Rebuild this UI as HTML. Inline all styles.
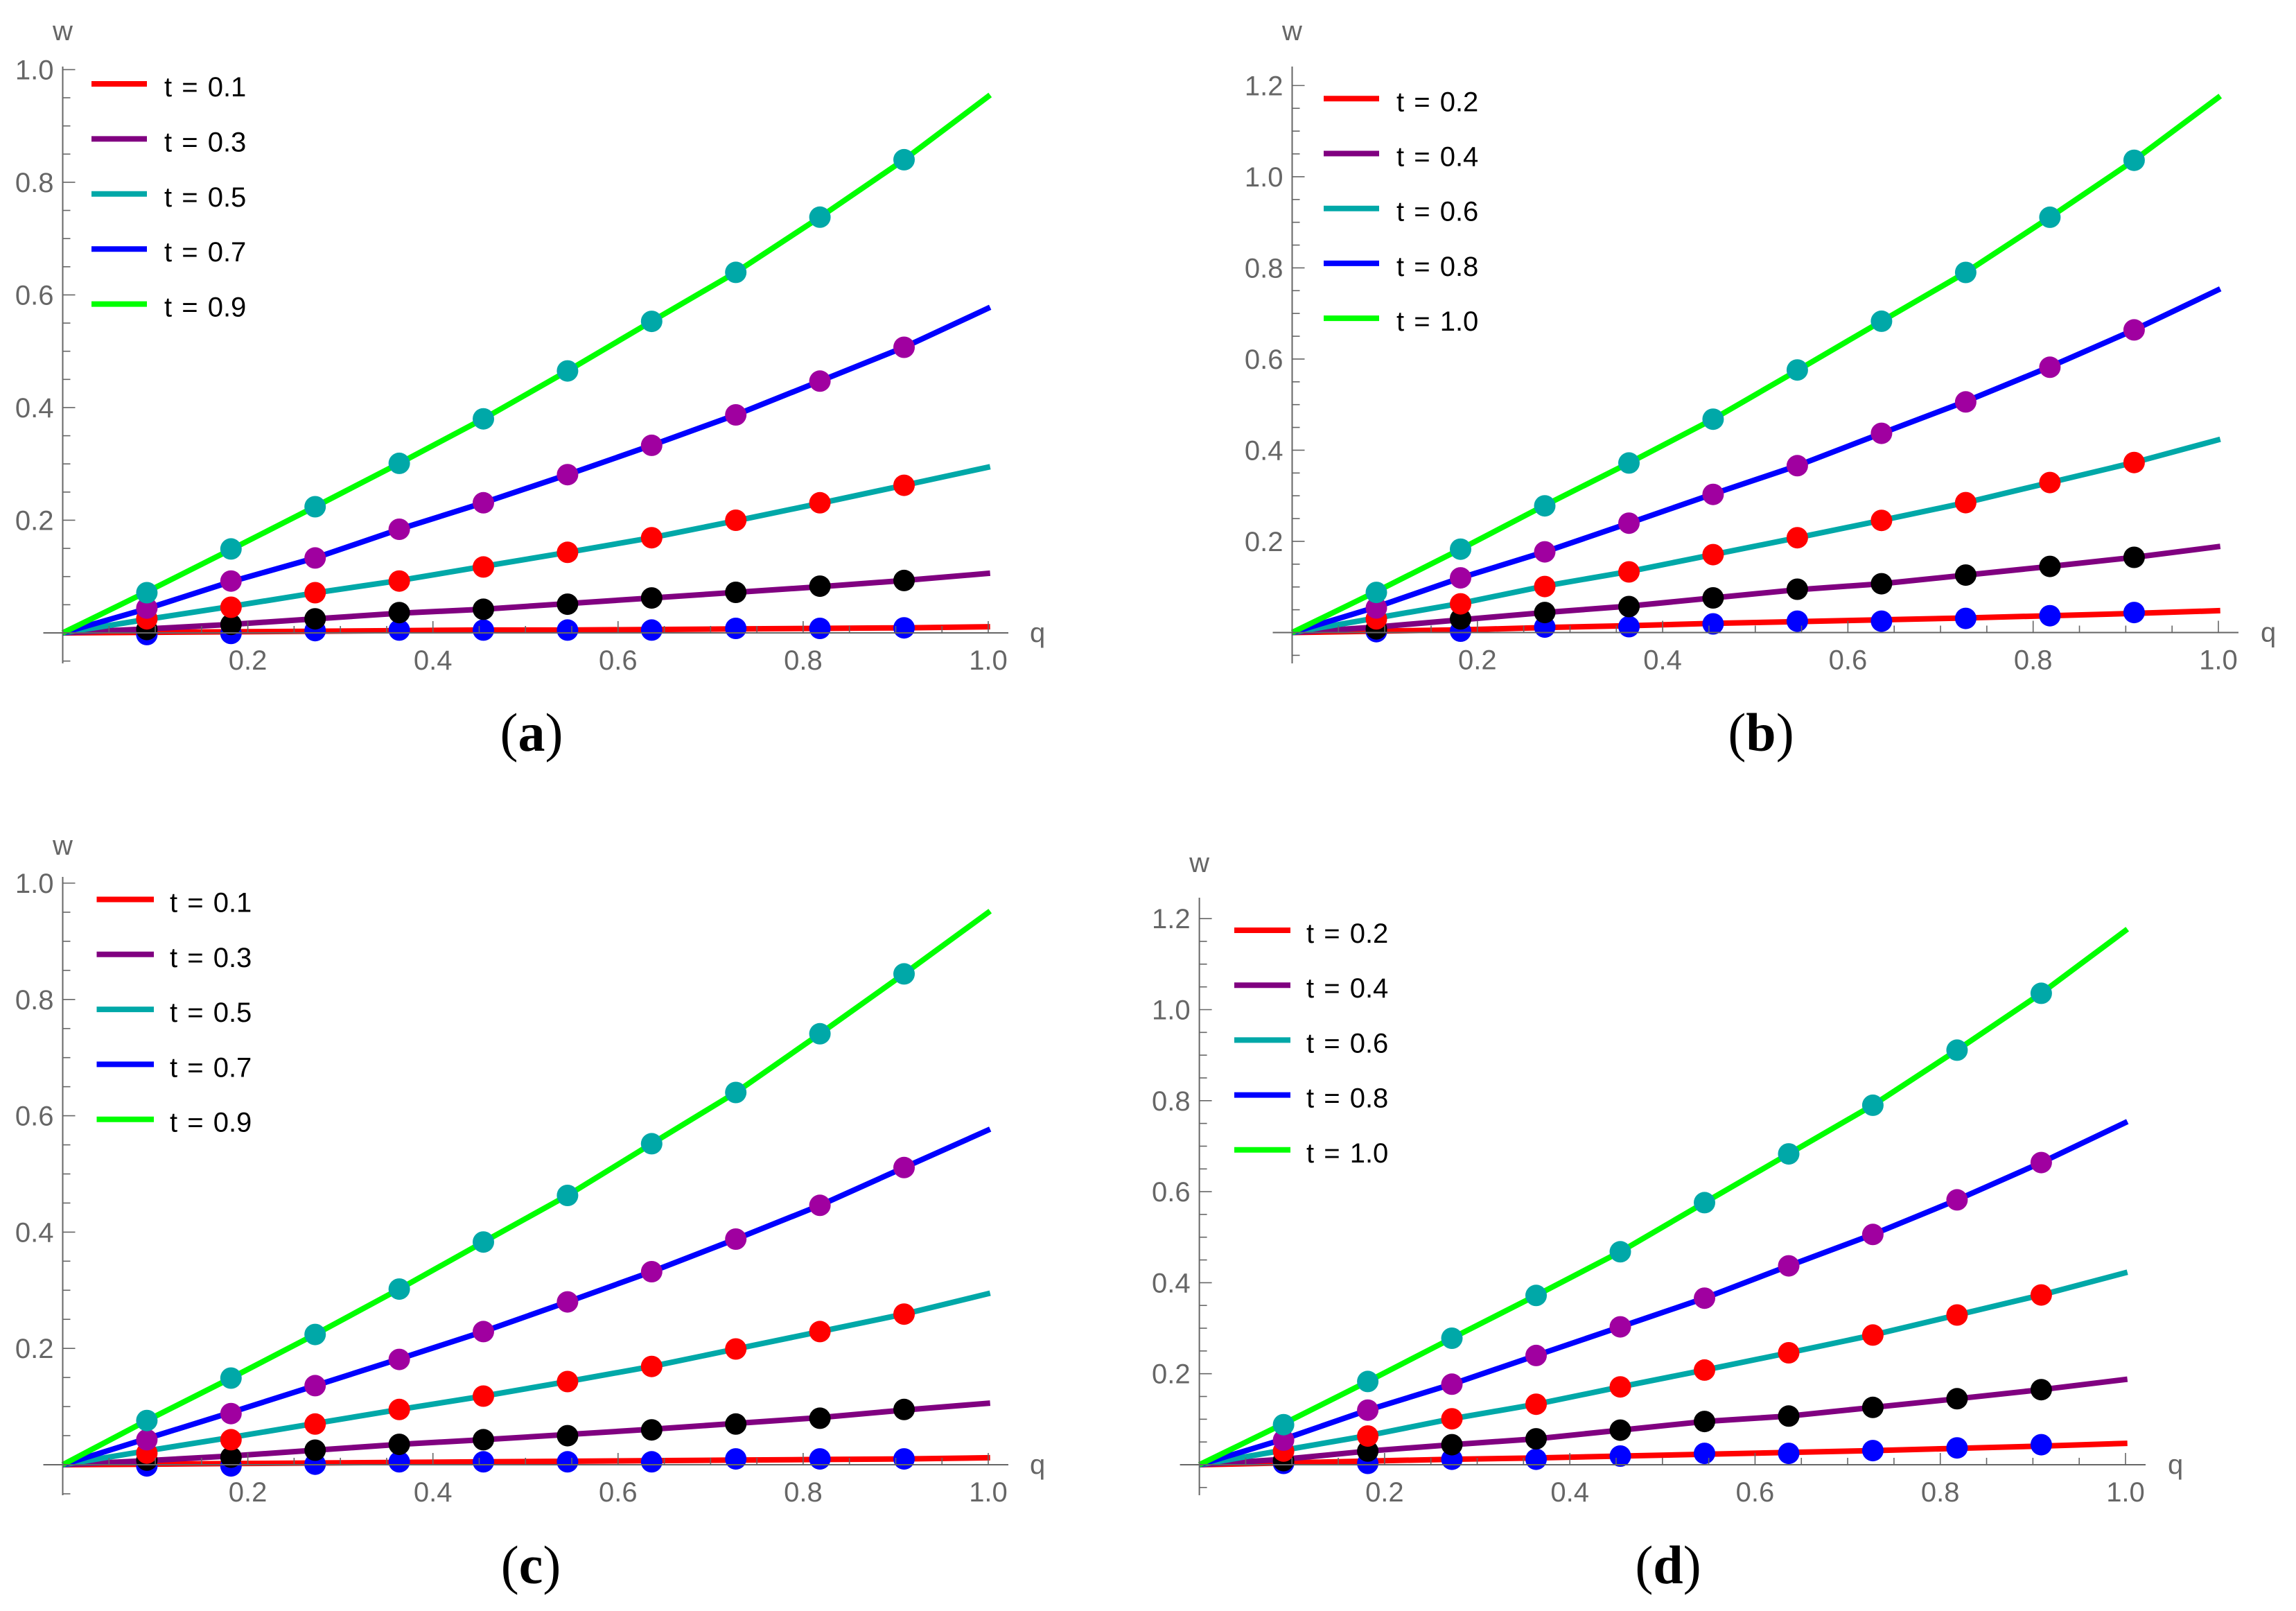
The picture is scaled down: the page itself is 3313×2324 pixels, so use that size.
<!DOCTYPE html>
<html lang="en">
<head>
<meta charset="utf-8">
<title>w versus q for several t values</title>
<style>
html,body{margin:0;padding:0;background:#fff;}
svg{display:block;}
text{font-family:"Liberation Sans",sans-serif;}
.cap{font-family:"Liberation Serif",serif;font-size:78px;fill:#000;text-anchor:middle;}
.cap tspan{font-weight:bold;}
</style>
</head>
<body>
<svg id="figure" xmlns="http://www.w3.org/2000/svg" width="3313" height="2324" viewBox="0 0 3313 2324">
<rect x="0" y="0" width="3313" height="2324" fill="#ffffff"/>
<g id="panel-a"></g>
<g id="panel-b"></g>
<g id="panel-c"></g>
<g id="panel-d"></g>
<text class="cap" x="767" y="1083">(<tspan>a</tspan>)</text>
<text class="cap" x="2541" y="1083">(<tspan>b</tspan>)</text>
<text class="cap" x="766" y="2284">(<tspan>c</tspan>)</text>
<text class="cap" x="2407" y="2284">(<tspan>d</tspan>)</text>
</svg>
<script>
const qLine = [0, 0.0909, 0.1818, 0.2727, 0.3636, 0.4545, 0.5454, 0.6363, 0.7272, 0.8181, 0.9090, 1.002];
const qDots = [0.0909, 0.1818, 0.2727, 0.3636, 0.4545, 0.5454, 0.6363, 0.7272, 0.8181, 0.9090];
const xTickLabels = ["0.2", "0.4", "0.6", "0.8", "1.0"];
const yTickLabelsShort = ["0.2", "0.4", "0.6", "0.8", "1.0"];
const yTickLabelsTall = ["0.2", "0.4", "0.6", "0.8", "1.0", "1.2"];
const legendOdd = ["t = 0.1", "t = 0.3", "t = 0.5", "t = 0.7", "t = 0.9"];
const legendEven = ["t = 0.2", "t = 0.4", "t = 0.6", "t = 0.8", "t = 1.0"];

const aLine1 = [0, .001, .002, .003, .004, .005, .005, .006, .007, .008, .009, .011];
const aLine2 = [0, .007, .015, .025, .035, .042, .052, .062, .072, .082, .093, .106];
const aLine3 = [0, .024, .047, .071, .093, .118, .143, .169, .199, .23, .262, .295];
const aLine4 = [0, .043, .091, .133, .184, .231, .281, .333, .387, .447, .507, .578];
const aLine5 = [0, .073, .148, .224, .301, .38, .465, .553, .64, .738, .84, .955];
const aDots1 = [-.003, -.001, .004, .005, .005, .005, .005, .008, .008, .009];
const aDots2 = [.006, .015, .025, .036, .042, .051, .062, .072, .083, .093];
const aDots3 = [.025, .0455, .0714, .092, .117, .143, .169, .2, .231, .262];
const aDots4 = [.044, .092, .133, .184, .231, .281, .333, .387, .447, .507];
const aDots5 = [.0714, .149, .224, .301, .38, .465, .553, .64, .738, .84];

const bLine1 = [0, .003, .006, .011, .015, .02, .024, .028, .032, .037, .042, .048];
const bLine2 = [0, .012, .028, .044, .058, .076, .094, .107, .126, .145, .165, .189];
const bLine3 = [0, .032, .064, .102, .134, .171, .208, .246, .285, .329, .373, .424];
const bLine4 = [0, .056, .12, .177, .24, .304, .366, .437, .507, .583, .664, .754];
const bLine5 = [0, .09, .183, .279, .372, .468, .575, .683, .79, .911, 1.036, 1.177];
const bDots1 = [.002, .003, .012, .013, .019, .025, .025, .031, .037, .044];
const bDots2 = [.008, .03, .044, .057, .076, .095, .107, .126, .145, .165];
const bDots3 = [.03, .063, .101, .133, .171, .208, .246, .285, .329, .373];
const bDots4 = [.054, .12, .177, .24, .303, .366, .437, .506, .582, .664];
const bDots5 = [.088, .183, .278, .372, .468, .576, .683, .79, .911, 1.036];

const cLine1 = [0, .001, .002, .003, .004, .005, .006, .007, .008, .009, .01, .012];
const cLine2 = [0, .007, .015, .025, .035, .043, .052, .061, .071, .081, .094, .106];
const cLine3 = [0, .024, .047, .071, .095, .118, .143, .169, .199, .229, .259, .295];
const cLine4 = [0, .045, .09, .136, .182, .229, .28, .332, .388, .446, .511, .577];
const cLine5 = [0, .076, .149, .224, .302, .383, .463, .552, .64, .741, .844, .952];
const cDots1 = [-.002, -.002, .001, .005, .005, .005, .005, .01, .01, .01];
const cDots2 = [.008, .013, .025, .035, .043, .05, .06, .07, .08, .095];
const cDots3 = [.02, .043, .07, .095, .118, .143, .169, .199, .229, .259];
const cDots4 = [.043, .088, .136, .181, .229, .28, .332, .388, .446, .511];
const cDots5 = [.076, .149, .224, .302, .383, .463, .552, .64, .741, .844];

const dLine1 = [0, .004, .008, .012, .015, .019, .023, .027, .031, .036, .041, .047];
const dLine2 = [0, .012, .03, .044, .057, .076, .095, .107, .126, .145, .165, .188];
const dLine3 = [0, .032, .064, .101, .133, .171, .208, .246, .285, .329, .373, .423];
const dLine4 = [0, .056, .12, .177, .24, .303, .366, .437, .506, .582, .664, .754];
const dLine5 = [0, .09, .183, .278, .372, .468, .576, .683, .79, .911, 1.036, 1.177];
const dDots1 = [.003, .003, .012, .012, .019, .025, .025, .031, .037, .044];
const dDots2 = [.009, .03, .044, .057, .076, .095, .107, .126, .145, .165];
const dDots3 = [.03, .063, .101, .133, .171, .208, .246, .285, .329, .373];
const dDots4 = [.054, .12, .177, .24, .303, .366, .437, .506, .582, .664];
const dDots5 = [.088, .183, .278, .372, .468, .576, .683, .79, .911, 1.036];

const lineColors = ["#ff0000", "#800080", "#00a8a8", "#0000ff", "#00ff00"];
const dotColors = ["#0000ff", "#000000", "#ff0000", "#a000a0", "#00a8a8"];
const axisGray = "#666666";
const SVGNS = "http://www.w3.org/2000/svg";

const panels = [
  {id:"panel-a", x0:90.5, x1:1426, y0:913, unit:812.6, yLabels:yTickLabelsShort, axTop:96, axBot:957, wBase:58, qx:1486,
   legend:legendOdd, legX:[132,212], legY:121, legStep:79.4, txtX:237,
   lines:[aLine1,aLine2,aLine3,aLine4,aLine5], dots:[aDots1,aDots2,aDots3,aDots4,aDots5]},
  {id:"panel-b", x0:1864.5, x1:3201, y0:912.5, unit:657.6, yLabels:yTickLabelsTall, axTop:96, axBot:957, wBase:58, qx:3262,
   legend:legendEven, legX:[1910,1990], legY:142.3, legStep:79.2, txtX:2015,
   lines:[bLine1,bLine2,bLine3,bLine4,bLine5], dots:[bDots1,bDots2,bDots3,bDots4,bDots5]},
  {id:"panel-c", x0:90.5, x1:1426, y0:2113, unit:839, yLabels:yTickLabelsShort, axTop:1265, axBot:2157, wBase:1233, qx:1486,
   legend:legendOdd, legX:[139.5,222], legY:1297.5, legStep:79.3, txtX:245,
   lines:[cLine1,cLine2,cLine3,cLine4,cLine5], dots:[cDots1,cDots2,cDots3,cDots4,cDots5]},
  {id:"panel-d", x0:1730.6, x1:3067, y0:2113, unit:656.5, yLabels:yTickLabelsTall, axTop:1295, axBot:2157, wBase:1258, qx:3128,
   legend:legendEven, legX:[1781,1862], legY:1342, legStep:79.2, txtX:1885,
   lines:[dLine1,dLine2,dLine3,dLine4,dLine5], dots:[dDots1,dDots2,dDots3,dDots4,dDots5]}
];

function make(tag, parent, attrs) {
  const el = document.createElementNS(SVGNS, tag);
  for (const k in attrs) el.setAttribute(k, attrs[k]);
  parent.appendChild(el);
  return el;
}

panels.forEach(function (p) {
  const g = document.getElementById(p.id);
  const sx = function (q) { return p.x0 + q * (p.x1 - p.x0); };
  const sy = function (w) { return p.y0 - w * p.unit; };

  p.lines.forEach(function (vals, i) {
    const pts = vals.map(function (v, j) { return sx(qLine[j]).toFixed(1) + "," + sy(v).toFixed(1); }).join(" ");
    const el = make("polyline", g, {points: pts, fill: "none", stroke: lineColors[i], "stroke-width": 8, "stroke-linejoin": "round"});
    
    
  });

  p.dots.forEach(function (vals, i) {
    vals.forEach(function (v, j) {
      const el = make("circle", g, {cx: sx(qDots[j]).toFixed(1), cy: sy(v).toFixed(1), r: 15.5, fill: dotColors[i]});
      
      
    });
  });

  const xAxis = make("line", g, {x1: p.x0 - 28, x2: p.x1 + 29, y1: p.y0, y2: p.y0, stroke: axisGray, "stroke-width": 2});
  
  
  const yAxis = make("line", g, {x1: p.x0, x2: p.x0, y1: p.axTop, y2: p.axBot, stroke: axisGray, "stroke-width": 2});
  
  

  for (let k = 1; k <= 20; k++) {
    const major = k % 4 === 0;
    const tx = sx(k * 0.05);
    const el = make("line", g, {x1: tx, x2: tx, y1: p.y0, y2: p.y0 - (major ? 17 : 10), stroke: axisGray, "stroke-width": 1.6});
    
    
  }
  const yCount = p.yLabels.length * 4;
  for (let k = -1; k <= yCount; k++) {
    if (k === 0) continue;
    const major = k % 4 === 0;
    const ty = sy(k * 0.05);
    const el = make("line", g, {x1: p.x0, x2: p.x0 + (major ? 18 : 11), y1: ty, y2: ty, stroke: axisGray, "stroke-width": 1.6});
    
    
  }

  xTickLabels.forEach(function (lab) {
    const el = make("text", g, {x: sx(parseFloat(lab)), y: p.y0 + 53, "font-size": 40, fill: axisGray, "text-anchor": "middle"});
    el.textContent = lab;
    
    
  });
  p.yLabels.forEach(function (lab) {
    const el = make("text", g, {x: p.x0 - 13, y: sy(parseFloat(lab)) + 14, "font-size": 40, fill: axisGray, "text-anchor": "end"});
    el.textContent = lab;
    
    
  });

  const wLabel = make("text", g, {x: p.x0, y: p.wBase, "font-size": 40, fill: axisGray, "text-anchor": "middle"});
  wLabel.textContent = "w";
  
  
  const qLabel = make("text", g, {x: p.qx, y: p.y0 + 13, "font-size": 40, fill: axisGray});
  qLabel.textContent = "q";
  
  

  p.legend.forEach(function (lab, i) {
    const ly = p.legY + i * p.legStep;
    const swatch = make("line", g, {x1: p.legX[0], x2: p.legX[1], y1: ly, y2: ly, stroke: lineColors[i], "stroke-width": 8});
    
    
    const txt = make("text", g, {x: p.txtX, y: ly + 18, "font-size": 40, fill: "#000", "word-spacing": 3});
    txt.textContent = lab;
    
    
  });
});
</script>
</body>
</html>
